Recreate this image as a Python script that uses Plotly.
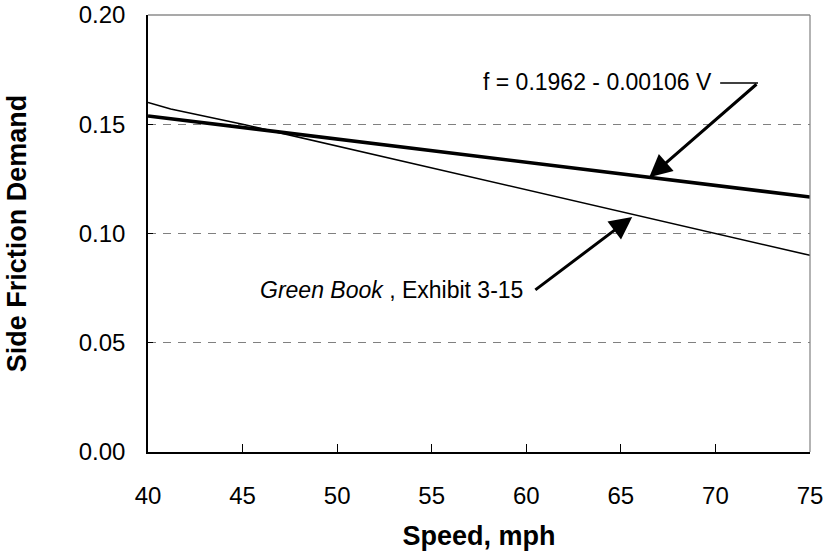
import plotly.graph_objects as go

# speeds (mph) and side friction values
speed = [40, 45, 50, 55, 60, 65, 70, 75]
regression_f = [0.1538, 0.1485, 0.1432, 0.1379, 0.1326, 0.1273, 0.1220, 0.1167]

green_speed = [40, 41.2, 45, 50, 55, 60, 65, 70, 75]
green_book_f = [0.160, 0.157, 0.150, 0.140, 0.130, 0.120, 0.110, 0.100, 0.090]

y_ticks = [0.00, 0.05, 0.10, 0.15, 0.20]
x_ticks = [40, 45, 50, 55, 60, 65, 70, 75]

font = "Arial, Liberation Sans, sans-serif"

fig = go.Figure()

fig.add_trace(
    go.Scatter(
        x=green_speed,
        y=green_book_f,
        mode="lines",
        line=dict(color="black", width=1.5),
        name="Green Book"
    )
)

fig.add_trace(
    go.Scatter(
        x=speed,
        y=regression_f,
        mode="lines",
        line=dict(color="black", width=3.6),
        name="Regression"
    )
)

# equation label with connector and arrow
fig.add_annotation(
    x=69.9, y=0.1693, xref="x", yref="y",
    text="f = 0.1962 - 0.00106 V", showarrow=False,
    xanchor="right", yanchor="middle",
    font=dict(family=font, size=23, color="black")
)
fig.add_shape(
    type="line", xref="x", yref="y",
    x0=70.25, y0=0.1689, x1=72.25, y1=0.1689,
    line=dict(color="black", width=1.5)
)
fig.add_annotation(
    x=66.5, y=0.1257, ax=72.25, ay=0.1689,
    xref="x", yref="y", axref="x", ayref="y",
    text="", showarrow=True, arrowhead=2, arrowsize=1.5,
    arrowwidth=3, arrowcolor="black"
)

# Green Book label and arrow
fig.add_annotation(
    x=59.93, y=0.0741, xref="x", yref="y",
    text="<i>Green Book</i> , Exhibit 3-15", showarrow=False,
    xanchor="right", yanchor="middle",
    font=dict(family=font, size=23, color="black")
)
fig.add_annotation(
    x=65.6, y=0.1076, ax=60.4, ay=0.0737,
    xref="x", yref="y", axref="x", ayref="y",
    text="", showarrow=True, arrowhead=2, arrowsize=1.5,
    arrowwidth=3, arrowcolor="black"
)

# grey top and right border
fig.add_shape(type="line", xref="paper", yref="paper", x0=0, y0=1, x1=1, y1=1,
              line=dict(color="#555555", width=1.2))
fig.add_shape(type="line", xref="paper", yref="paper", x0=1, y0=0, x1=1, y1=1,
              line=dict(color="#808080", width=1.2))

fig.update_layout(
    width=825,
    height=559,
    margin=dict(l=148, r=15, t=15, b=107),
    paper_bgcolor="white",
    plot_bgcolor="white",
    showlegend=False,
    font=dict(family=font, size=24, color="black"),
    xaxis=dict(
        range=[40, 75],
        tickvals=x_ticks,
        ticks="inside",
        ticklen=8,
        tickcolor="black",
        showline=True,
        linecolor="black",
        linewidth=1.5,
        showgrid=False,
        zeroline=False,
        automargin=False,
        ticklabelstandoff=21,
        title=dict(text="<b>Speed, mph</b>", font=dict(size=27), standoff=19),
    ),
    yaxis=dict(
        range=[0, 0.20],
        tickvals=y_ticks,
        tickformat=".2f",
        ticks="inside",
        ticklen=5,
        tickcolor="black",
        showline=True,
        linecolor="black",
        linewidth=1.5,
        showgrid=True,
        gridcolor="#808080",
        gridwidth=1,
        griddash="8px,7px",
        zeroline=False,
        automargin=False,
        ticklabelstandoff=16,
        title=dict(text="<b>Side Friction Demand</b>", font=dict(size=27), standoff=44),
    ),
)

fig.write_html(
    "out.html",
    config={"displayModeBar": False},
    post_script="document.body.style.margin = '0';",
)
